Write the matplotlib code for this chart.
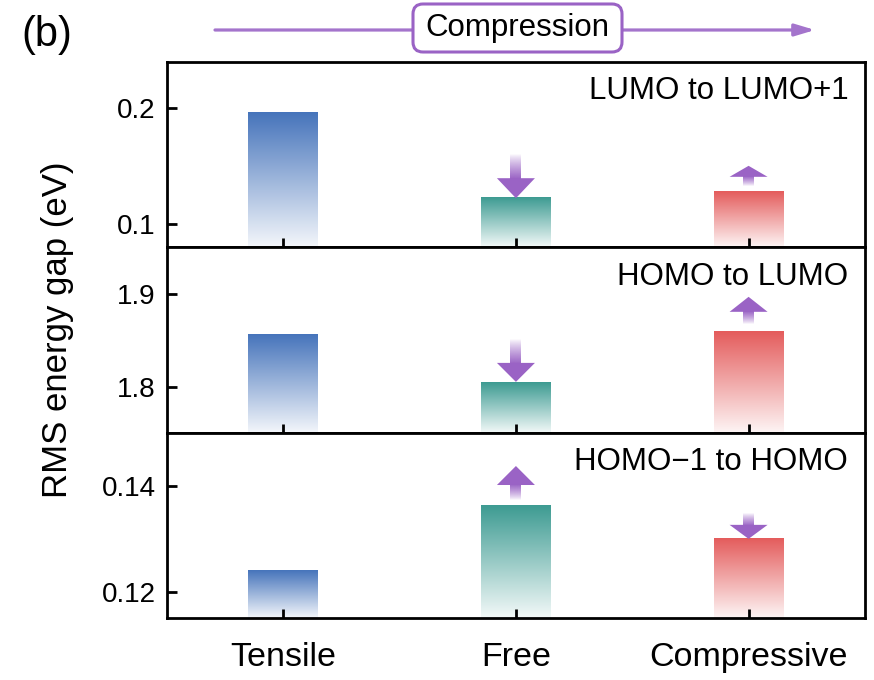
import numpy as np
import matplotlib
matplotlib.use("Agg")
import matplotlib.pyplot as plt
from matplotlib.patches import Polygon, FancyBboxPatch, FancyArrowPatch
from matplotlib.colors import to_rgb

plt.rcParams['font.family'] = ['Liberation Sans', 'DejaVu Sans']

# ---- data ----
categories = ['Tensile', 'Free', 'Compressive']
lumo_to_lumo1 = [0.196, 0.1225, 0.128]
homo_to_lumo = [1.856, 1.805, 1.859]
homo1_to_homo = [0.124, 0.1362, 0.130]
panel_titles = ['LUMO to LUMO+1', 'HOMO to LUMO', 'HOMO\u22121 to HOMO']
panel_values = [lumo_to_lumo1, homo_to_lumo, homo1_to_homo]
panel_ylims = [(0.08, 0.24), (1.75, 1.95), (0.115, 0.150)]
panel_yticks = [[0.1, 0.2], [1.8, 1.9], [0.12, 0.14]]
panel_ticklabels = [['0.1', '0.2'], ['1.8', '1.9'], ['0.12', '0.14']]

# ---- style ----
bar_colors = ['#4674bb', '#3d9b92', '#e45c5c']
purple = '#9a63c5'
line_purple = '#a474cc'
bar_width = 0.3
# per-arrow (shaft px, head px, gap px) for Free and Compressive in each panel
arrow_sizes = [
    [(24, 20, 0), (9, 11, 6)],
    [(24, 19, 0), (12, 15, 8)],
    [(15, 19, 6), (12, 14, 0)],
]

fig = plt.figure(figsize=(8.74, 6.8), dpi=100)
left, width = 0.191, 0.7986
bottom, top = 0.0907, 0.9088
h = (top - bottom) / 3


def gradient_bar(ax, x, ytop, ybot, color):
    rgb = np.array(to_rgb(color))
    t = np.linspace(0, 1, 256)[:, None]
    a = 0.06 + 0.94 * t
    img = 1 - a * (1 - rgb)
    ax.imshow(img[:, None, :], extent=[x - bar_width / 2, x + bar_width / 2, ybot, ytop],
              origin='lower', aspect='auto', interpolation='bilinear', zorder=1)


def draw_arrow(ax, x, ybar, direction, shaft_px, head_px, gap_px):
    x0, x1 = ax.get_xlim()
    y0, y1 = ax.get_ylim()
    sx = ax.bbox.width / (x1 - x0)
    sy = ax.bbox.height / (y1 - y0)
    hw = 19 / sx
    sw = 5.5 / sx
    rgb = np.array(to_rgb(purple))
    n = 128
    if direction < 0:
        tip = ybar
        base = ybar + head_px / sy
        send = base + shaft_px / sy
        alpha = np.linspace(1, 0.0, n)
        ext = [x - sw, x + sw, base - 1 / sy, send]
        head = [(x - hw, base), (x + hw, base), (x, tip)]
    else:
        sstart = ybar + gap_px / sy
        base = sstart + shaft_px / sy
        tip = base + head_px / sy
        alpha = np.linspace(0.0, 1, n)
        ext = [x - sw, x + sw, sstart, base + 1 / sy]
        head = [(x - hw, base), (x + hw, base), (x, tip)]
    img = np.zeros((n, 1, 4))
    img[:, 0, :3] = rgb
    img[:, 0, 3] = alpha ** 0.8
    ax.imshow(img, extent=ext, origin='lower', aspect='auto', interpolation='bilinear', zorder=3)
    ax.add_patch(Polygon(head, closed=True, fc=purple, ec='none', zorder=4))


xpos = np.arange(len(categories))
axes = []
for i in range(3):
    ax = fig.add_axes([left, top - (i + 1) * h, width, h])
    axes.append(ax)
    vals = panel_values[i]
    ylo, yhi = panel_ylims[i]
    for j, v in enumerate(vals):
        gradient_bar(ax, xpos[j], v, ylo, bar_colors[j])
    ax.set_xlim(-0.5, 2.5)
    ax.set_ylim(ylo, yhi)
    for j in range(1, 3):
        d = np.sign(vals[j] - vals[j - 1])
        s, hd, g = arrow_sizes[i][j - 1]
        draw_arrow(ax, xpos[j], vals[j], d, s, hd, g)
    ax.set_xlim(-0.5, 2.5)
    ax.set_ylim(ylo, yhi)
    ax.set_yticks(panel_yticks[i])
    ax.set_yticklabels(panel_ticklabels[i])
    ax.set_xticks(xpos)
    if i == 2:
        ax.set_xticklabels(categories, fontsize=24.5)
    else:
        ax.set_xticklabels([])
    ax.tick_params(axis='y', direction='in', length=7, width=2, labelsize=20, pad=8)
    ax.tick_params(axis='x', direction='in', length=6.5, width=2, pad=17)
    for sp in ax.spines.values():
        sp.set_linewidth(2)
    ax.text(0.976, 0.80, panel_titles[i], transform=ax.transAxes, ha='right',
            va='baseline', fontsize=22.5)

fig.text(0.066, 0.515, 'RMS energy gap (eV)', rotation=90, ha='center', va='center', fontsize=25)

# compression direction indicator
fig.add_artist(FancyArrowPatch((2.15, 6.50), (8.15, 6.50), transform=fig.dpi_scale_trans,
                               arrowstyle='-|>,head_length=1.0,head_width=0.3', mutation_scale=12,
                               color=line_purple, lw=2.3, shrinkA=0, shrinkB=0))
fig.add_artist(FancyBboxPatch((4.13, 6.28), 2.09, 0.48, boxstyle='round,pad=0,rounding_size=0.1',
                              transform=fig.dpi_scale_trans, fc='white', ec=purple, lw=2.2))
fig.text(5.175, 6.52, 'Compression', transform=fig.dpi_scale_trans, ha='center', va='center', fontsize=22.5)
fig.text(0.21, 6.45, '(b)', transform=fig.dpi_scale_trans, ha='left', va='center', fontsize=30)

fig.savefig('out.png', dpi=100)
